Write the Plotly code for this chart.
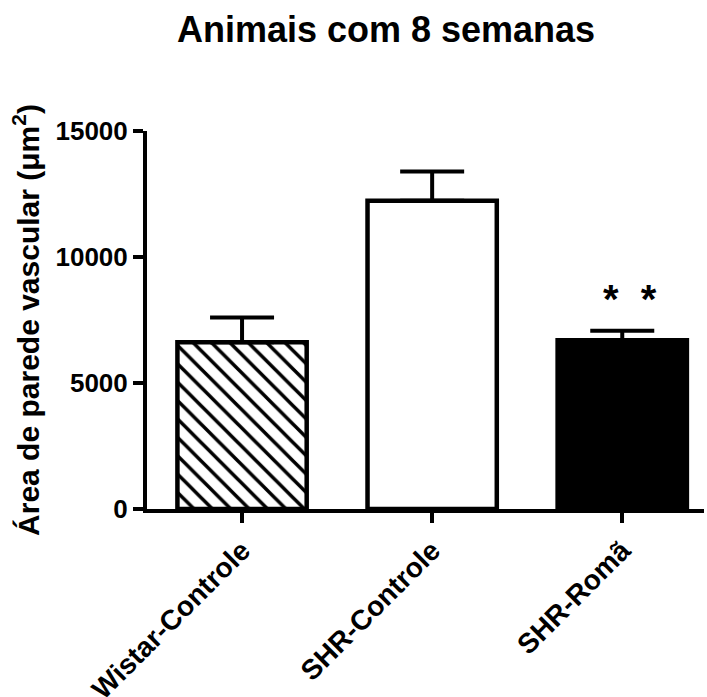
import plotly.graph_objects as go

categories = ["Wistar-Controle", "SHR-Controle", "SHR-Romã"]
means = [6620, 12230, 6700]
errors = [980, 1160, 370]
fills = ["white", "white", "black"]
patterns = ["\\", "", ""]
y_ticks = [0, 5000, 10000, 15000]
significance = ["", "", "*  *"]
sig_y = [None, None, 8350]

FONT = "Liberation Sans, Arial, sans-serif"

fig = go.Figure()
for i, cat in enumerate(categories):
    marker = dict(color=fills[i], line=dict(color="black", width=4.5))
    if patterns[i]:
        marker["pattern"] = dict(shape=patterns[i], size=13, solidity=0.27,
                                 fgcolor="black", bgcolor="white", fgopacity=1,
                                 fillmode="overlay")
    fig.add_trace(go.Bar(
        x=[cat], y=[means[i]], width=0.68, marker=marker,
        error_y=dict(type="data", symmetric=False, array=[errors[i]], arrayminus=[0],
                     color="black", thickness=4, width=32),
        showlegend=False,
    ))

for i, cat in enumerate(categories):
    if significance[i]:
        fig.add_annotation(x=cat, y=sig_y[i], text=significance[i], showarrow=False,
                           font=dict(family=FONT, size=40, color="black", weight="bold"),
                           xanchor="center", yanchor="middle", xshift=8)

fig.update_layout(
    width=707, height=697,
    margin=dict(l=147, r=3, t=131, b=188),
    plot_bgcolor="white", paper_bgcolor="white",
    barmode="overlay",
    title=dict(text="Animais com 8 semanas", x=386/707, xref="container", xanchor="center",
               y=1 - 29/697, yref="container", yanchor="middle",
               font=dict(family=FONT, size=36, color="black", weight="bold")),
    font=dict(family=FONT, color="black"),
)
fig.update_xaxes(
    range=[-0.5, 2.43], showline=True, linecolor="black", linewidth=4,
    ticks="outside", ticklen=10, tickwidth=4, tickcolor="black",
    tickangle=-45, tickfont=dict(family=FONT, size=28, color="black", weight="bold"),
    showgrid=False, zeroline=False, automargin=False,
)
fig.update_yaxes(
    range=[0, 15000], tickvals=y_ticks, ticktext=[str(v) for v in y_ticks],
    showline=True, linecolor="black", linewidth=4,
    ticks="outside", ticklen=10, tickwidth=4, tickcolor="black",
    tickfont=dict(family=FONT, size=26, color="black", weight="bold"),
    showgrid=False, zeroline=False, automargin=False,
    title=dict(text="Área de parede vascular (μm<sup>2</sup>)", standoff=8,
               font=dict(family=FONT, size=30, color="black", weight="bold")),
)

fig.write_html("out.html", config={"displayModeBar": False},
               post_script="document.body.style.margin='0';document.body.style.overflow='hidden';")
